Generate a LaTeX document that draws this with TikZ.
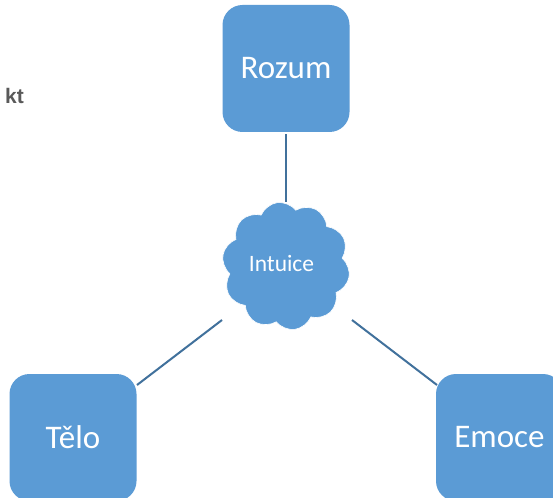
\documentclass[tikz,border=0pt]{standalone}
\usepackage{fontspec}
\setmainfont{Carlito}
\newfontfamily\arialfont{Liberation Sans}
\usetikzlibrary{shapes.symbols}
\definecolor{boxblue}{HTML}{5B9BD5}
\definecolor{lineblue}{HTML}{41719C}
\definecolor{txtgray}{HTML}{595959}
\tikzset{
  bluebox/.style={fill=boxblue, draw=none, rounded corners=20pt, minimum width=127pt, minimum height=127pt, inner sep=0pt, text=white, font=\fontsize{33}{38}\selectfont},
  cloudnode/.style={cloud, cloud puffs=10, cloud puff arc=120, aspect=1, fill=boxblue, draw=white, line width=0.6pt, minimum width=128pt, minimum height=128pt, inner sep=0pt, text=white},
  link/.style={draw=lineblue, line width=2pt}
}
\begin{document}
\begin{tikzpicture}[x=1pt,y=-1pt]
\useasboundingbox (0,0) rectangle (553,497);
\fill[white] (0,0) rectangle (553,497);
\begin{scope}
\clip (0,0) rectangle (553,497);
\node[bluebox] (rozum) at (286,68.5) {Rozum};
\node[bluebox] (telo) at (73,437.5) {Tělo};
\node[bluebox] (emoce) at (499.5,437.5) {Emoce};
\node[cloudnode, rotate=8] (intuice) at (286,266) {};
\node[text=white, font=\fontsize{23.5}{28}\selectfont] (intlabel) at (281.5,263) {Intuice};
\node[anchor=base east, text=txtgray, font=\arialfont\bfseries\fontsize{21}{25}\selectfont, inner sep=0pt] (kt) at (24,104) {kt};
\coordinate (c1) at (286,202);
\coordinate (c2) at (222,320);
\coordinate (c3) at (352,320);
\coordinate (t1) at (137,385);
\coordinate (e1) at (437,385);
\draw[link] (rozum.south) ++(0,2) -- (c1);
\draw[link] (c2) -- (t1);
\draw[link] (c3) -- (e1);
\end{scope}
\end{tikzpicture}
\end{document}
